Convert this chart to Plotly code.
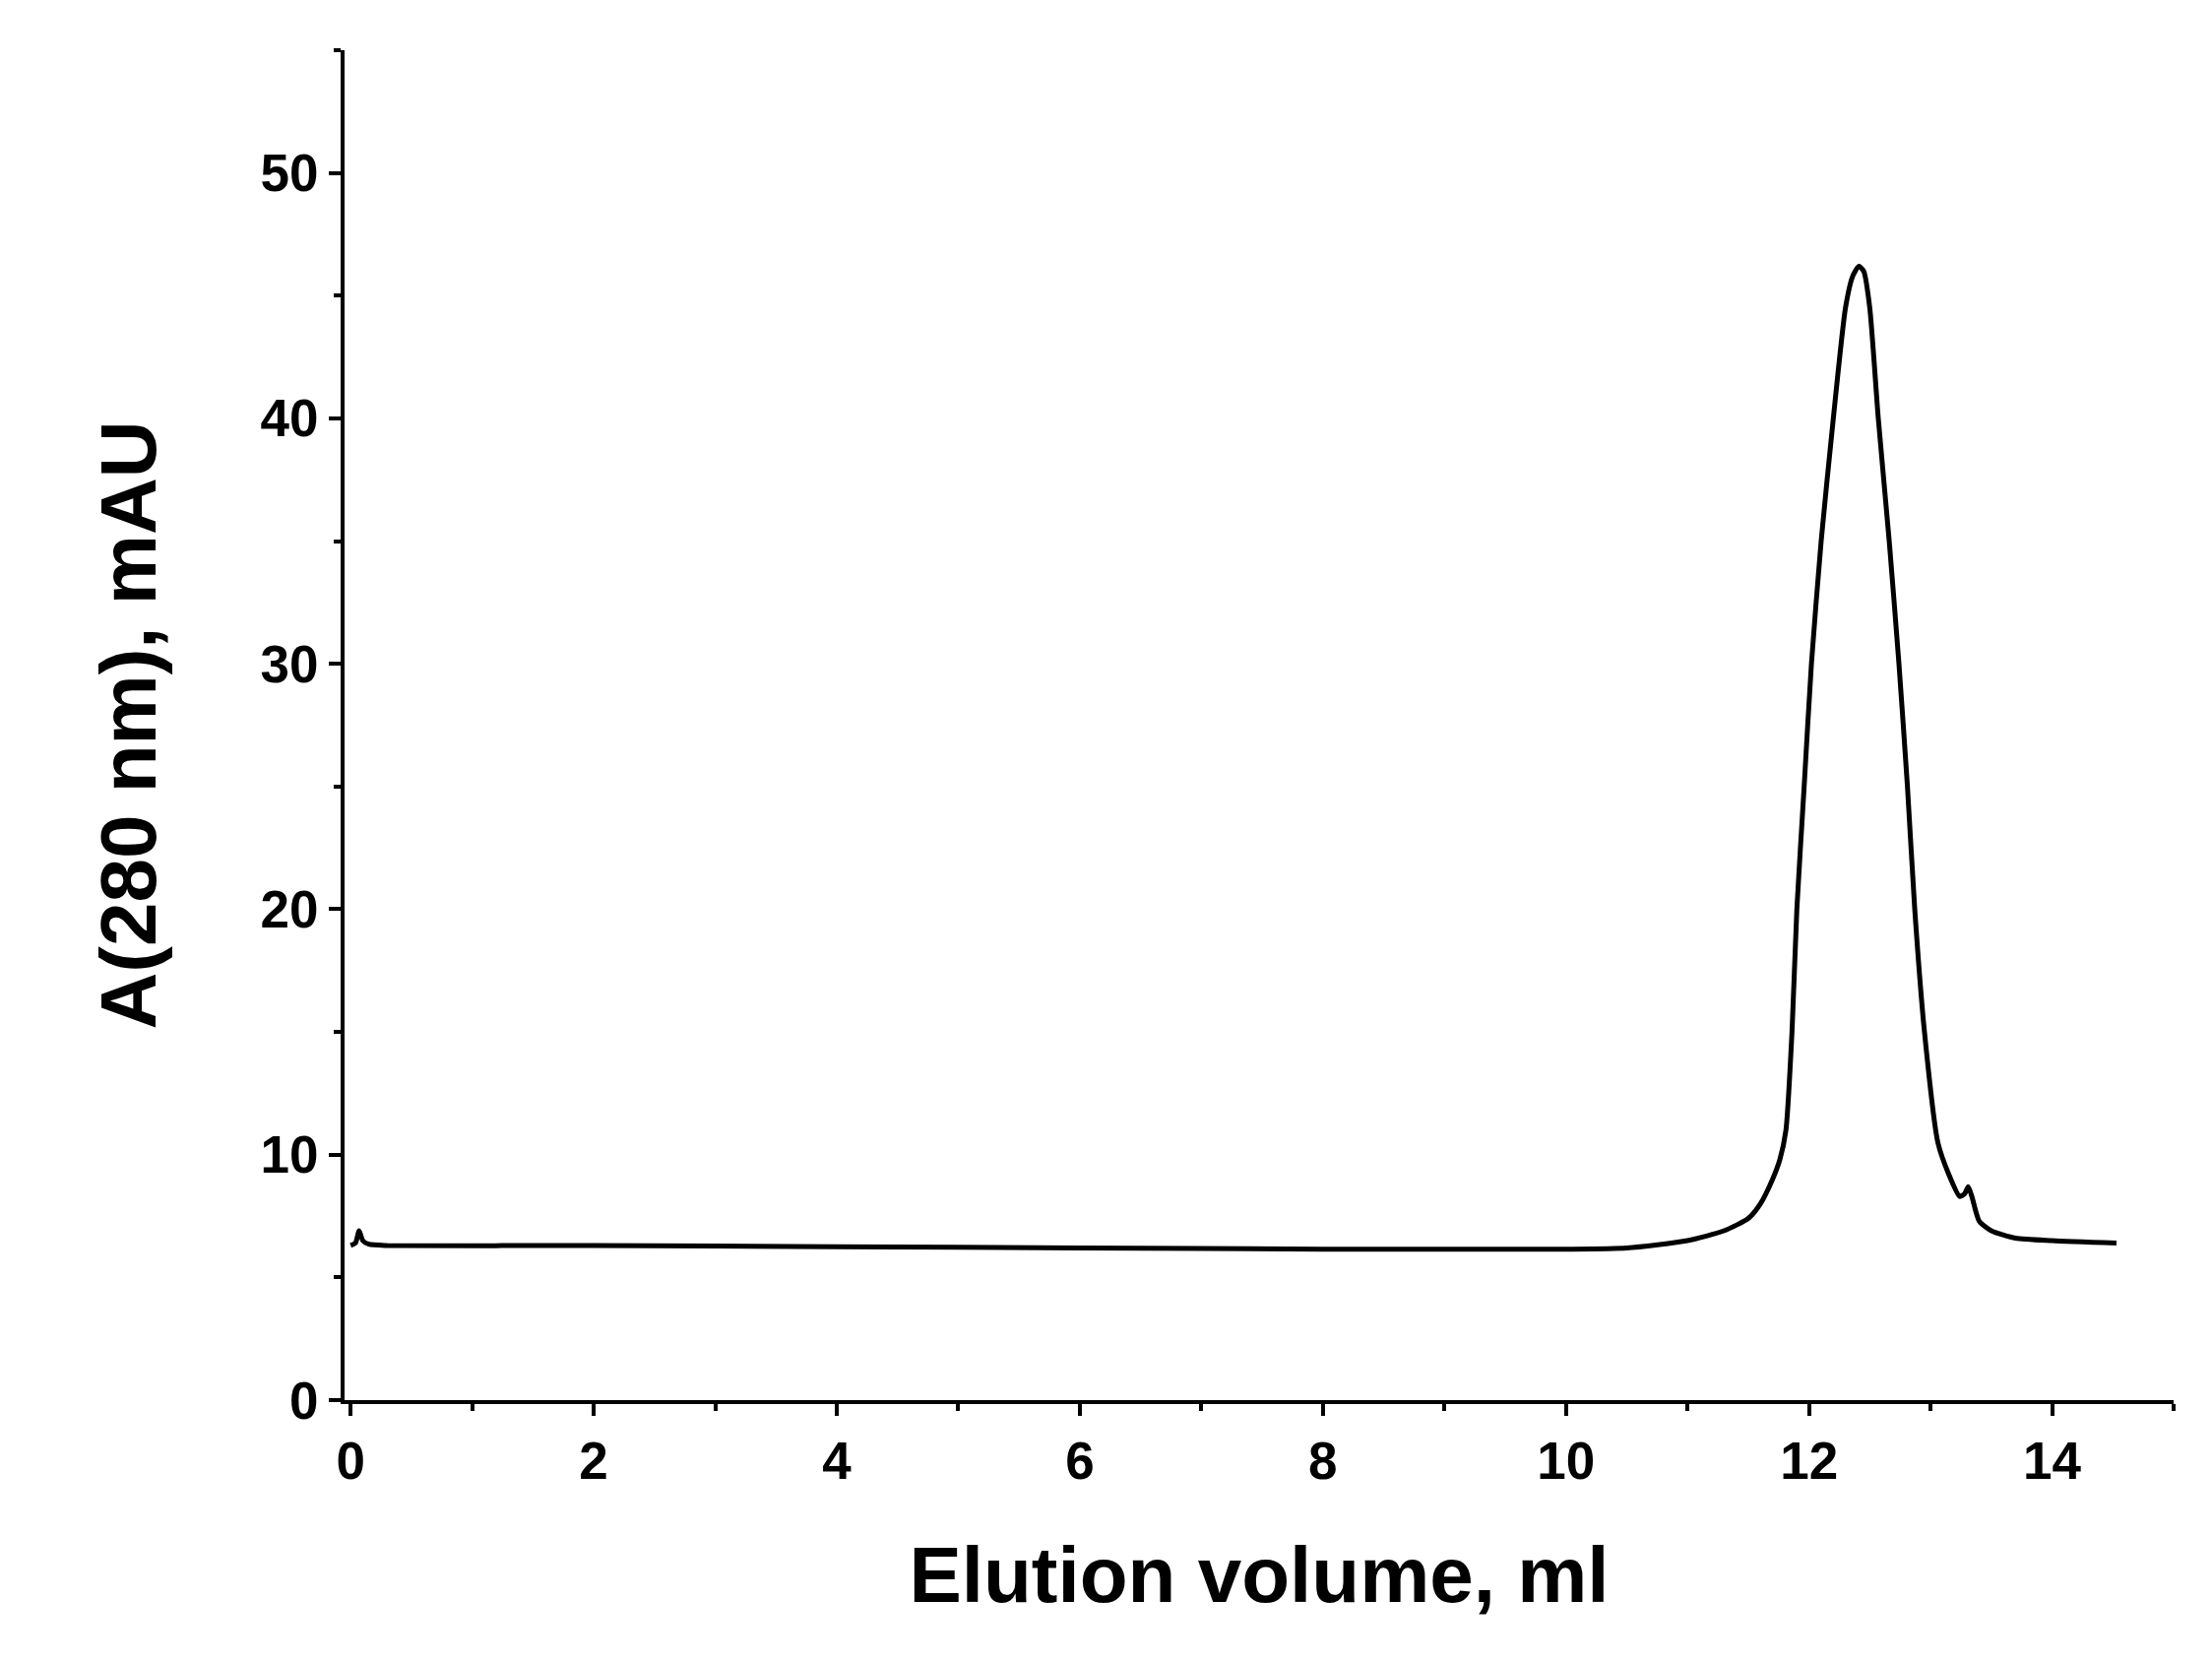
import plotly.graph_objects as go

volume_ml = [0.0, 0.04, 0.07, 0.1, 0.15, 0.3, 2, 4, 6, 8, 10, 10.5, 11.0, 11.3, 11.5, 11.6, 11.7, 11.76, 11.81, 11.86, 11.9, 11.96, 12.02, 12.1, 12.2, 12.3, 12.36, 12.41, 12.45, 12.5, 12.57, 12.66, 12.74, 12.81, 12.87, 12.95, 13.06, 13.15, 13.24, 13.28, 13.31, 13.34, 13.4, 13.5, 13.7, 14.0, 14.53]
absorbance = [6.3, 6.4, 6.9, 6.5, 6.35, 6.3, 6.3, 6.25, 6.2, 6.15, 6.15, 6.2, 6.5, 6.9, 7.4, 8.0, 9.0, 9.8, 11.0, 15.0, 20.0, 25.0, 30.0, 35.0, 40.0, 44.5, 45.8, 46.2, 46.0, 44.5, 40.0, 35.0, 30.0, 25.0, 20.0, 15.0, 10.5, 9.2, 8.3, 8.4, 8.7, 8.3, 7.3, 6.9, 6.6, 6.5, 6.4]

x_ticks = [0, 2, 4, 6, 8, 10, 12, 14]
y_ticks = [0, 10, 20, 30, 40, 50]

font = dict(family="Liberation Sans, Arial", color="black")
fig = go.Figure(go.Scatter(x=volume_ml, y=absorbance, mode="lines",
                           line=dict(color="black", width=5, shape="spline", smoothing=0.6)))
axis_common = dict(showline=True, linecolor="black", linewidth=4, ticks="outside",
                   ticklen=12, tickwidth=4, tickcolor="black", showgrid=False, zeroline=False,
                   tickfont=dict(size=53, **font),
                   minor=dict(ticks="outside", ticklen=7, tickwidth=4, tickcolor="black"))
fig.update_xaxes(range=[-0.05, 15], tickvals=x_ticks, ticktext=[f"<b>{v}</b>" for v in x_ticks],
                 title=dict(text="<b>Elution volume, ml</b>", font=dict(size=80, **font), standoff=60),
                 minor_dtick=1, minor_tick0=0, **axis_common)
fig.update_yaxes(range=[0, 55], tickvals=y_ticks, ticktext=[f"<b>{v}</b>" for v in y_ticks],
                 title=dict(text="<b>A(280 nm), mAU</b>", font=dict(size=80, **font), standoff=80),
                 minor_dtick=5, minor_tick0=0, **axis_common)
fig.update_layout(width=2247, height=1689, plot_bgcolor="white", paper_bgcolor="white",
                  margin=dict(l=342, r=47, t=43, b=275), showlegend=False)
fig.write_html("out.html")
